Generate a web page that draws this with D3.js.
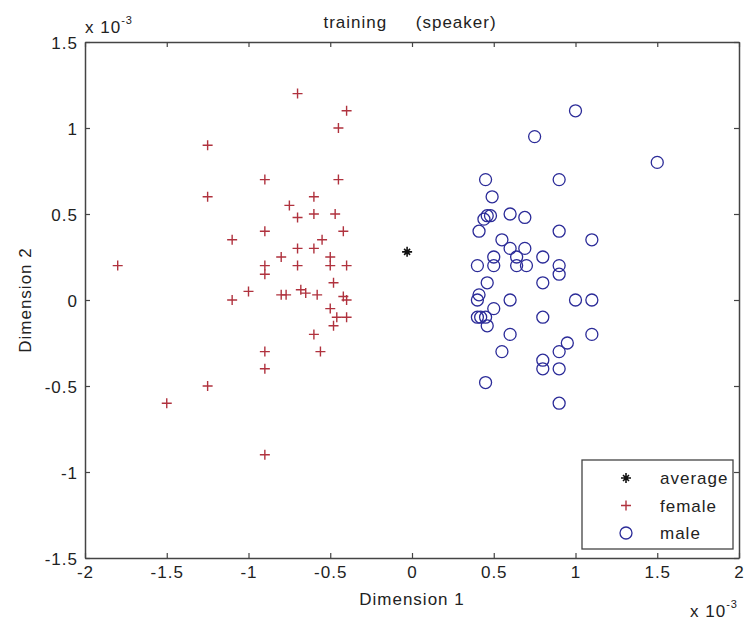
<!DOCTYPE html>
<html>
<head>
<meta charset="utf-8">
<script src="https://cdn.jsdelivr.net/npm/d3@7"></script>
<style>
  body { margin: 0; background: #fff; }
  text { font-family: "Liberation Sans", Arial, sans-serif; fill: #222; letter-spacing: 1px; }
</style>
</head>
<body>
<div id="chart"></div>
<script>
// values in units of 1e-3
var xTicks = [-2, -1.5, -1, -0.5, 0, 0.5, 1, 1.5, 2];
var yTicks = [-1.5, -1, -0.5, 0, 0.5, 1, 1.5];

var averageX = [-0.03];
var averageY = [0.28];

var femaleX = [-0.7, -0.4, -0.45, -1.25, -0.9, -0.45, -1.25, -0.6, -0.75, -0.7,
               -0.6, -0.47, -0.9, -0.42, -1.1, -0.55, -0.6, -0.7, -0.8, -0.5,
               -1.8, -0.9, -0.7, -0.5, -0.4, -0.9, -0.48, -1.0, -1.1, -0.8,
               -0.77, -0.68, -0.65, -0.58, -0.42, -0.4, -0.5, -0.46, -0.4, -0.48,
               -0.6, -0.56, -0.9, -0.9, -1.25, -1.5, -0.9];
var femaleY = [1.2, 1.1, 1.0, 0.9, 0.7, 0.7, 0.6, 0.6, 0.55, 0.48,
               0.5, 0.5, 0.4, 0.4, 0.35, 0.35, 0.3, 0.3, 0.25, 0.25,
               0.2, 0.2, 0.2, 0.2, 0.2, 0.15, 0.1, 0.05, 0, 0.03,
               0.03, 0.06, 0.04, 0.03, 0.02, 0, -0.05, -0.1, -0.1, -0.15,
               -0.2, -0.3, -0.3, -0.4, -0.5, -0.6, -0.9];

var maleX = [1.0, 0.75, 1.5, 0.45, 0.9, 0.49, 0.44, 0.46, 0.48, 0.6,
             0.69, 0.41, 0.9, 1.1, 0.55, 0.6, 0.69, 0.64, 0.5, 0.8,
             0.4, 0.5, 0.64, 0.7, 0.9, 0.9, 0.46, 0.8, 0.41, 0.4,
             0.5, 0.6, 1.0, 1.1, 0.4, 0.42, 0.45, 0.46, 0.8, 0.6,
             1.1, 0.95, 0.55, 0.9, 0.8, 0.8, 0.9, 0.45, 0.9];
var maleY = [1.1, 0.95, 0.8, 0.7, 0.7, 0.6, 0.47, 0.49, 0.49, 0.5,
             0.48, 0.4, 0.4, 0.35, 0.35, 0.3, 0.3, 0.25, 0.25, 0.25,
             0.2, 0.2, 0.2, 0.2, 0.2, 0.15, 0.1, 0.1, 0.03, 0,
             -0.05, 0, 0, 0, -0.1, -0.1, -0.1, -0.15, -0.1, -0.2,
             -0.2, -0.25, -0.3, -0.3, -0.35, -0.4, -0.4, -0.48, -0.6];

var legendNames = ["average", "female", "male"];

var svgWidth = 745;
var svgHeight = 624;
var margin = { top: 42, right: 6, bottom: 66, left: 85 };
var chartWidth = 739 - margin.left;
var chartHeight = 558 - margin.top;

var svg = d3.select("#chart")
    .append("svg")
    .attr("width", svgWidth)
    .attr("height", svgHeight);

var chartGroup = svg.append("g")
    .attr("transform", `translate(${margin.left}, ${margin.top})`);

var xScale = d3.scaleLinear().domain([-2, 2]).range([0, chartWidth]);
var yScale = d3.scaleLinear().domain([-1.5, 1.5]).range([chartHeight, 0]);

var fmt = function(d) { return String(d); };
var axisColor = "#444";
var redCol = "#b0323e";
var blueCol = "#2b2b98";

// axes with inward ticks on all four sides
var bottomAxis = chartGroup.append("g")
    .attr("transform", `translate(0, ${chartHeight})`)
    .call(d3.axisBottom(xScale).tickValues(xTicks).tickFormat(fmt).tickSizeInner(-5).tickSizeOuter(0).tickPadding(8));
var leftAxis = chartGroup.append("g")
    .call(d3.axisLeft(yScale).tickValues(yTicks).tickFormat(fmt).tickSizeInner(-5).tickSizeOuter(0).tickPadding(7));
var topAxis = chartGroup.append("g")
    .call(d3.axisTop(xScale).tickValues(xTicks).tickFormat("").tickSizeInner(-5).tickSizeOuter(0));
var rightAxis = chartGroup.append("g")
    .attr("transform", `translate(${chartWidth}, 0)`)
    .call(d3.axisRight(yScale).tickValues(yTicks).tickFormat("").tickSizeInner(-5).tickSizeOuter(0));

chartGroup.selectAll(".domain").attr("stroke", axisColor).attr("stroke-width", 1.5);
chartGroup.selectAll(".tick line").attr("stroke", axisColor).attr("stroke-width", 1.2);
chartGroup.selectAll(".tick text")
    .style("font-size", "17px")
    .attr("fill", "#222");
leftAxis.selectAll(".tick text").attr("dy", "0.4em");

// marker shapes
function plusPath(x, y, s) {
    return `M${x - s},${y}H${x + s}M${x},${y - s}V${y + s}`;
}
function starPath(x, y, s) {
    var d = s * 0.6;
    return plusPath(x, y, s) + `M${x - d},${y - d}L${x + d},${y + d}M${x - d},${y + d}L${x + d},${y - d}`;
}

// female: plus markers
chartGroup.append("g")
    .selectAll("path")
    .data(femaleX.map((d, i) => [d, femaleY[i]]))
    .enter()
    .append("path")
    .attr("d", d => plusPath(xScale(d[0]), yScale(d[1]), 5))
    .attr("stroke", redCol)
    .attr("stroke-width", 1.4)
    .attr("fill", "none");

// male: open circles
chartGroup.append("g")
    .selectAll("circle")
    .data(maleX.map((d, i) => [d, maleY[i]]))
    .enter()
    .append("circle")
    .attr("cx", d => xScale(d[0]))
    .attr("cy", d => yScale(d[1]))
    .attr("r", 6)
    .attr("stroke", blueCol)
    .attr("stroke-width", 1.3)
    .attr("fill", "none");

// average: black star
chartGroup.append("g")
    .selectAll("path")
    .data(averageX.map((d, i) => [d, averageY[i]]))
    .enter()
    .append("path")
    .attr("d", d => starPath(xScale(d[0]), yScale(d[1]), 5))
    .attr("stroke", "#111")
    .attr("stroke-width", 1.6)
    .attr("fill", "none");

// labels
svg.append("text")
    .attr("x", 410)
    .attr("y", 28)
    .attr("text-anchor", "middle")
    .style("font-size", "17px")
    .attr("xml:space", "preserve")
    .text("training     (speaker)");

var expTop = svg.append("text")
    .attr("x", 85)
    .attr("y", 33)
    .style("font-size", "17px");
expTop.append("tspan").text("x 10");
expTop.append("tspan").attr("dy", -9).style("font-size", "11px").text("-3");

var expBottom = svg.append("text")
    .attr("x", 690)
    .attr("y", 617)
    .style("font-size", "17px");
expBottom.append("tspan").text("x 10");
expBottom.append("tspan").attr("dy", -9).style("font-size", "11px").text("-3");

svg.append("text")
    .attr("x", margin.left + chartWidth / 2)
    .attr("y", 605)
    .attr("text-anchor", "middle")
    .style("font-size", "17px")
    .text("Dimension 1");

svg.append("text")
    .attr("transform", `translate(31, ${margin.top + chartHeight / 2}) rotate(-90)`)
    .attr("text-anchor", "middle")
    .style("font-size", "17px")
    .text("Dimension 2");

// legend
var legend = svg.append("g").attr("transform", "translate(582, 460)");
legend.append("rect")
    .attr("width", 151)
    .attr("height", 89)
    .attr("fill", "#fff")
    .attr("stroke", axisColor)
    .attr("stroke-width", 1.3);

var rowY = d3.scalePoint().domain(legendNames).range([18, 73]);

legend.append("path")
    .attr("d", starPath(44, rowY("average"), 5))
    .attr("stroke", "#111")
    .attr("stroke-width", 1.6);
legend.append("path")
    .attr("d", plusPath(44, rowY("female"), 5))
    .attr("stroke", redCol)
    .attr("stroke-width", 1.4);
legend.append("circle")
    .attr("cx", 44)
    .attr("cy", rowY("male"))
    .attr("r", 6)
    .attr("stroke", blueCol)
    .attr("stroke-width", 1.3)
    .attr("fill", "none");

legend.selectAll("text.lbl")
    .data(legendNames)
    .enter()
    .append("text")
    .attr("class", "lbl")
    .attr("x", 78)
    .attr("y", d => rowY(d) + 6)
    .style("font-size", "17px")
    .text(d => d);
</script>
</body>
</html>
